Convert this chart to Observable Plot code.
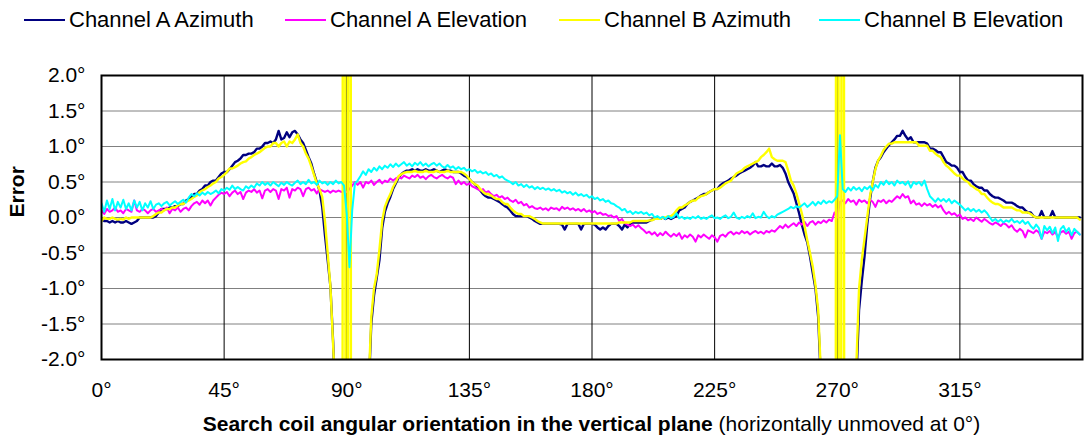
<!DOCTYPE html>
<html><head><meta charset="utf-8">
<script src="https://cdn.jsdelivr.net/npm/d3@7"></script>
<script src="https://cdn.jsdelivr.net/npm/@observablehq/plot@0.6"></script>
<style>
body{margin:0;background:#fff;}
#wrap{position:relative;width:1085px;height:441px;font-family:"Liberation Sans",Arial,sans-serif;color:#000;overflow:hidden;}
.leg{position:absolute;top:0;height:40px;display:flex;align-items:center;font-size:22px;white-space:nowrap;}
.sw{display:inline-block;width:41px;height:2px;margin-right:4px;}
#chart{position:absolute;left:0;top:40px;}
#xt{position:absolute;left:101px;width:981px;top:411px;text-align:center;font-size:21px;line-height:26px;white-space:nowrap;}
</style></head>
<body>
<div id="wrap"><div id="legend"></div><div id="chart"></div><div id="xt"></div></div>
<script>
// Sample positions (degrees), one reading per degree
const angles = Array.from({length: 360}, (_, i) => i);

const seriesNames = ["Channel A Azimuth", "Channel A Elevation", "Channel B Azimuth", "Channel B Elevation"];
const seriesColors = ["#000080", "#ff00ff", "#ffff00", "#00ffff"];

const xTicks = [0, 45, 90, 135, 180, 225, 270, 315];
const yTicks = [-2, -1.5, -1, -0.5, 0, 0.5, 1, 1.5, 2];
const xTitleBold = "Search coil angular orientation in the vertical plane";
const xTitleRest = " (horizontally unmoved at 0°)";
const yTitle = "Error";

const chAAz = [
-0.02,-0.05,-0.05,-0.07,-0.05,-0.07,-0.05,-0.07,-0.07,-0.05,
-0.07,-0.09,-0.07,-0.05,0,0,0,0,0,0,
0.02,0.07,0.12,0.12,0.12,0.14,0.14,0.16,0.16,0.19,
0.19,0.24,0.26,0.29,0.33,0.33,0.38,0.4,0.45,0.45,
0.5,0.52,0.52,0.57,0.62,0.64,0.64,0.68,0.73,0.78,
0.8,0.83,0.88,0.88,0.9,0.9,0.92,0.97,0.97,1.0,
1.05,1.05,1.07,1.05,1.1,1.22,1.1,1.12,1.2,1.13,
1.2,1.22,1.17,1.1,1.05,0.95,0.85,0.76,0.62,0.5,
0.38,0.15,-0.25,-0.6,-0.97,-1.75,-2.8,-3.5,-4.5,-6,
-8,-8,-6,-5,-4,-3.5,-3,-2.6,-2.5,-1.5,
-1.1,-0.85,-0.6,-0.15,0.08,0.2,0.29,0.4,0.48,0.56,
0.61,0.64,0.66,0.66,0.68,0.66,0.68,0.66,0.66,0.68,
0.66,0.66,0.68,0.66,0.64,0.66,0.68,0.66,0.66,0.64,
0.64,0.64,0.62,0.59,0.57,0.54,0.5,0.47,0.43,0.38,
0.33,0.3,0.28,0.28,0.26,0.24,0.22,0.19,0.16,0.14,
0.1,0.05,0.02,0.02,0.02,0.02,0.02,0,-0.02,-0.05,
-0.07,-0.09,-0.09,-0.09,-0.09,-0.09,-0.09,-0.09,-0.09,-0.1,
-0.17,-0.09,-0.09,-0.09,-0.09,-0.09,-0.17,-0.09,-0.09,-0.09,
-0.09,-0.1,-0.14,-0.17,-0.14,-0.17,-0.12,-0.09,-0.09,-0.09,
-0.12,-0.17,-0.1,-0.14,-0.09,-0.07,-0.07,-0.07,-0.07,-0.07,
-0.07,-0.05,-0.03,-0.02,-0.02,-0.02,0,-0.02,0,-0.02,
0,0.02,0.1,0.12,0.14,0.19,0.22,0.24,0.26,0.28,
0.31,0.33,0.33,0.36,0.38,0.4,0.4,0.45,0.48,0.5,
0.52,0.55,0.57,0.59,0.62,0.64,0.66,0.68,0.7,0.73,
0.78,0.72,0.72,0.74,0.72,0.72,0.76,0.72,0.72,0.74,
0.7,0.62,0.5,0.42,0.34,0.2,0.06,-0.1,-0.24,-0.35,
-0.55,-0.78,-1.0,-1.4,-2.3,-3,-4,-5,-6,-7,
-8,-8,-7,-6,-5,-4,-3,-2.3,-1.3,-0.9,
-0.55,-0.1,0.25,0.5,0.7,0.8,0.85,0.92,0.97,1.02,
1.06,1.1,1.15,1.15,1.22,1.15,1.1,1.13,1.06,1.06,
1.06,1.06,1.06,1.04,0.97,0.97,0.95,0.92,0.92,0.85,
0.78,0.76,0.73,0.73,0.7,0.64,0.64,0.57,0.52,0.52,
0.47,0.44,0.42,0.42,0.38,0.38,0.33,0.3,0.28,0.28,
0.26,0.24,0.21,0.21,0.21,0.19,0.16,0.14,0.14,0.1,
0.07,0.07,0.02,0,0,0.09,0,0,0,0.09,
0,0,0,0,0,0,0,0,0,0];

const chAEl = [
0.1,0.05,0.12,0.08,0.1,0.14,0.08,0.1,0.06,0.12,
0.1,0.08,0.24,0.1,0.08,0.12,0.1,0.06,0.1,0.12,
0.08,0.1,0.12,0.1,0.14,0.06,0.12,0.1,0.14,0.08,
0.12,0.14,0.1,0.16,0.2,0.22,0.18,0.24,0.2,0.24,
0.17,0.24,0.28,0.32,0.35,0.33,0.36,0.3,0.35,0.38,
0.33,0.36,0.26,0.35,0.38,0.36,0.4,0.35,0.38,0.27,
0.38,0.4,0.36,0.4,0.38,0.26,0.4,0.38,0.42,0.28,
0.4,0.38,0.42,0.4,0.3,0.4,0.42,0.38,0.4,0.34,
0.4,0.38,0.36,0.38,0.35,0.38,0.36,0.38,0.36,0.37,
0.36,0.4,0.45,0.5,0.46,0.5,0.42,0.5,0.48,0.52,
0.46,0.5,0.53,0.48,0.52,0.5,0.55,0.52,0.55,0.57,
0.55,0.59,0.57,0.55,0.59,0.57,0.6,0.56,0.58,0.54,
0.58,0.6,0.57,0.55,0.58,0.6,0.57,0.55,0.58,0.56,
0.47,0.52,0.47,0.5,0.46,0.48,0.44,0.42,0.4,0.38,
0.4,0.35,0.37,0.33,0.3,0.32,0.28,0.3,0.26,0.28,
0.24,0.22,0.25,0.2,0.22,0.17,0.19,0.14,0.16,0.13,
0.12,0.14,0.11,0.13,0.1,0.14,0.12,0.13,0.1,0.15,
0.12,0.14,0.11,0.13,0.1,0.12,0.09,0.12,0.08,0.1,
0.07,0.09,0.05,0.07,0.04,0.05,0.02,0.03,0,0.02,
-0.05,-0.02,-0.08,-0.1,-0.12,-0.1,-0.14,-0.11,-0.15,-0.18,
-0.22,-0.2,-0.24,-0.21,-0.26,-0.22,-0.25,-0.2,-0.24,-0.27,
-0.23,-0.26,-0.22,-0.3,-0.25,-0.28,-0.24,-0.27,-0.34,-0.25,
-0.28,-0.24,-0.27,-0.3,-0.25,-0.28,-0.34,-0.26,-0.24,-0.27,
-0.22,-0.2,-0.24,-0.21,-0.23,-0.19,-0.22,-0.2,-0.24,-0.21,
-0.19,-0.22,-0.2,-0.23,-0.19,-0.21,-0.18,-0.2,-0.16,-0.12,
-0.15,-0.1,-0.14,-0.11,-0.08,-0.12,-0.07,-0.1,-0.06,-0.12,
-0.07,-0.05,-0.1,-0.06,-0.08,-0.04,-0.07,-0.03,-0.05,0.07,
0,0.22,0.24,0.2,0.26,0.22,0.24,0.18,0.25,0.22,
0.24,0.2,0.25,0.22,0.15,0.24,0.22,0.25,0.2,0.24,
0.22,0.26,0.3,0.27,0.33,0.28,0.3,0.2,0.24,0.18,
0.2,0.16,0.2,0.17,0.19,0.15,0.18,0.14,0.17,0.1,
0.05,0.08,0.04,0.06,0.02,0.04,-0.02,0,-0.04,-0.02,
-0.05,0,-0.03,-0.06,-0.02,-0.05,-0.08,-0.1,-0.07,-0.09,
-0.12,-0.08,-0.1,-0.14,-0.11,-0.17,-0.2,-0.16,-0.19,-0.28,
-0.18,-0.2,-0.22,-0.18,-0.21,-0.3,-0.2,-0.22,-0.19,-0.24,
-0.2,-0.28,-0.21,-0.19,-0.23,-0.2,-0.3,-0.22,-0.2,-0.24];

const chBAz = [
-0.05,0,-0.02,-0.02,0,-0.02,-0.03,-0.02,-0.03,0,
-0.02,0,0,0,0,0,0,0,0,0.02,
0.05,0.07,0.07,0.1,0.12,0.12,0.14,0.14,0.17,0.19,
0.19,0.22,0.24,0.26,0.29,0.31,0.36,0.38,0.4,0.43,
0.45,0.48,0.5,0.55,0.57,0.6,0.64,0.69,0.69,0.71,
0.73,0.76,0.78,0.79,0.83,0.85,0.88,0.9,0.92,0.95,
0.98,1.0,1.0,1.05,1.05,1.0,1.05,1.07,1.0,1.07,
1.05,1.1,1.17,1.05,1.0,0.9,0.83,0.72,0.6,0.48,
0.4,0.29,-0.05,-0.5,-0.97,-1.8,-2.6,-5,-40,40,
-40,40,-40,-8,-5,-4,-3.5,-3,-2.4,-1.4,
-1.0,-0.8,-0.45,-0.05,0.15,0.25,0.33,0.43,0.5,0.58,
0.61,0.63,0.64,0.64,0.64,0.66,0.64,0.64,0.64,0.66,
0.64,0.64,0.64,0.66,0.64,0.64,0.64,0.66,0.64,0.64,
0.64,0.64,0.64,0.62,0.59,0.54,0.5,0.47,0.45,0.4,
0.36,0.33,0.33,0.31,0.28,0.26,0.26,0.22,0.19,0.19,
0.14,0.1,0.07,0.05,0.05,0.02,0.02,0.02,0,-0.02,
-0.05,-0.07,-0.085,-0.085,-0.085,-0.085,-0.085,-0.085,-0.085,-0.085,
-0.085,-0.085,-0.085,-0.085,-0.085,-0.085,-0.085,-0.085,-0.085,-0.085,
-0.085,-0.085,-0.085,-0.085,-0.085,-0.085,-0.085,-0.085,-0.085,-0.085,
-0.07,-0.07,-0.07,-0.07,-0.07,-0.05,-0.05,-0.05,-0.05,-0.05,
-0.05,-0.04,-0.04,-0.02,-0.02,-0.02,0,0,0.02,0.02,
0.05,0.1,0.14,0.14,0.17,0.19,0.22,0.24,0.24,0.28,
0.3,0.31,0.33,0.36,0.38,0.4,0.4,0.42,0.45,0.48,
0.5,0.52,0.57,0.62,0.64,0.66,0.7,0.72,0.74,0.76,
0.78,0.8,0.85,0.88,0.92,0.97,0.85,0.82,0.8,0.8,
0.8,0.78,0.66,0.52,0.45,0.34,0.2,0.06,-0.12,-0.32,
-0.5,-0.69,-0.95,-1.3,-2.2,-3,-4,-5,-8,-40,
40,-40,40,-40,-10,-5,-3,-2.1,-1.0,-0.6,
-0.3,0.0,0.3,0.5,0.68,0.8,0.87,0.95,1.0,1.04,
1.04,1.06,1.06,1.06,1.06,1.06,1.06,1.06,1.06,1.06,
1.01,1.01,1.01,1.01,0.94,0.94,0.9,0.87,0.85,0.78,
0.73,0.7,0.66,0.62,0.59,0.59,0.55,0.52,0.5,0.45,
0.43,0.4,0.38,0.33,0.33,0.28,0.24,0.21,0.19,0.19,
0.17,0.14,0.14,0.14,0.14,0.12,0.1,0.1,0.07,0.07,
0.07,0.05,0.02,0,0,0,0,0,0,0,
0,0,0,0,0,0,0,0,0,-0.03];

const chBEl = [
0.2,0.08,0.24,0.12,0.26,0.1,0.22,0.14,0.25,0.12,
0.2,0.1,0.24,0.14,0.22,0.1,0.2,0.14,0.23,0.12,
0.18,0.2,0.16,0.2,0.22,0.17,0.2,0.23,0.19,0.22,
0.25,0.21,0.28,0.33,0.3,0.34,0.31,0.35,0.32,0.36,
0.33,0.35,0.38,0.34,0.4,0.38,0.42,0.39,0.45,0.4,
0.43,0.4,0.38,0.44,0.41,0.45,0.42,0.48,0.45,0.5,
0.46,0.49,0.45,0.5,0.47,0.44,0.49,0.46,0.5,0.47,
0.45,0.49,0.52,0.47,0.5,0.47,0.53,0.48,0.5,0.46,
0.52,0.48,0.5,0.46,0.5,0.47,0.52,0.48,0.5,0.45,
0.05,-0.7,0.1,0.48,0.52,0.58,0.65,0.6,0.68,0.64,
0.7,0.66,0.72,0.68,0.73,0.7,0.75,0.71,0.76,0.72,
0.75,0.78,0.73,0.76,0.72,0.77,0.74,0.78,0.73,0.76,
0.72,0.75,0.77,0.73,0.76,0.72,0.7,0.74,0.7,0.72,
0.68,0.71,0.68,0.7,0.66,0.68,0.65,0.67,0.63,0.65,
0.62,0.64,0.6,0.62,0.58,0.6,0.56,0.58,0.54,0.52,
0.5,0.47,0.5,0.45,0.47,0.43,0.46,0.42,0.44,0.4,
0.43,0.4,0.42,0.39,0.41,0.38,0.4,0.37,0.39,0.35,
0.37,0.34,0.36,0.32,0.35,0.31,0.33,0.3,0.32,0.28,
0.3,0.26,0.28,0.24,0.26,0.22,0.24,0.2,0.19,0.16,
0.14,0.1,0.12,0.07,0.09,0.05,0.08,0.06,0.08,0.05,
0.07,0.03,0.05,0,0.02,-0.01,0.01,-0.02,0.02,-0.01,
0.01,0.06,-0.01,0.01,-0.02,0,-0.02,0.01,-0.01,0.02,
-0.02,0,-0.02,0.01,0.03,-0.01,0,-0.02,0.01,0.03,
-0.01,0.01,0.07,0,-0.02,0.01,-0.01,0.02,0,0.06,
-0.01,0.01,0,0.08,0.02,-0.01,0.02,0,0.04,0.06,
0.08,0.1,0.12,0.15,0.13,0.16,0.14,0.17,0.2,0.15,
0.18,0.22,0.17,0.22,0.19,0.24,0.2,0.23,0.21,0.25,
0.3,1.16,0.4,0.36,0.42,0.38,0.43,0.39,0.42,0.37,
0.43,0.4,0.44,0.38,0.46,0.42,0.5,0.46,0.52,0.47,
0.5,0.45,0.52,0.48,0.5,0.46,0.51,0.42,0.5,0.47,
0.5,0.45,0.52,0.4,0.3,0.26,0.22,0.27,0.23,0.26,
0.22,0.26,0.2,0.24,0.21,0.18,0.14,0.1,0.13,0.09,
0.12,0.08,0.11,0.07,0.1,0.06,0,-0.05,-0.02,-0.06,
-0.03,-0.07,-0.04,-0.06,-0.02,-0.07,-0.05,-0.08,-0.04,-0.09,
-0.06,-0.12,-0.16,-0.1,-0.15,-0.3,-0.12,-0.18,-0.13,-0.22,
-0.14,-0.33,-0.16,-0.12,-0.2,-0.15,-0.25,-0.16,-0.2,-0.24];

const seriesValues = [chAAz, chAEl, chBAz, chBEl];
const rows = seriesValues.map(vals => angles.map((a, i) => ({a, v: vals[i]})));

// Legend (HTML, above the SVG)
const legendLefts = [24, 285, 559, 819];
const legend = document.getElementById("legend");
seriesNames.forEach((name, i) => {
  const item = document.createElement("div");
  item.className = "leg";
  item.style.left = legendLefts[i] + "px";
  const sw = document.createElement("span");
  sw.className = "sw";
  sw.style.background = seriesColors[i];
  item.appendChild(sw);
  item.appendChild(document.createTextNode(name));
  legend.appendChild(item);
});

// X axis title (HTML, below the SVG)
const xt = document.getElementById("xt");
const b = document.createElement("b");
b.textContent = xTitleBold;
xt.appendChild(b);
xt.appendChild(document.createTextNode(xTitleRest));

const plot = Plot.plot({
  width: 1085,
  height: 360,
  marginLeft: 101,
  marginRight: 3,
  marginTop: 35,
  marginBottom: 41,
  x: {domain: [0, 360]},
  y: {domain: [-2, 2]},
  style: {fontFamily: "'Liberation Sans', Arial, sans-serif", fontSize: "21px", color: "black", background: "white"},
  marks: [
    Plot.gridY(yTicks, {stroke: "#808080", strokeOpacity: 1, strokeWidth: 1}),
    Plot.gridX(xTicks, {stroke: "#000000", strokeOpacity: 1, strokeWidth: 1}),
    ...rows.map((r, i) => Plot.lineY(r, {x: "a", y: "v", stroke: seriesColors[i], strokeWidth: (i % 2 === 0) ? 2.4 : 2, clip: true})),
    Plot.axisY(yTicks, {tickSize: 0, tickPadding: 16, tickFormat: d => d.toFixed(1) + "°", label: null}),
    Plot.axisX(xTicks, {tickSize: 0, tickPadding: 23, tickFormat: d => d + "°", label: null}),
    Plot.text([yTitle], {text: d => d, frameAnchor: "left", dx: -84, rotate: -90, fontWeight: "bold", fontSize: 21, fill: "black"}),
    Plot.frame({stroke: "#000000", strokeWidth: 2})
  ]
});
document.getElementById("chart").appendChild(plot);
</script>
</body></html>
